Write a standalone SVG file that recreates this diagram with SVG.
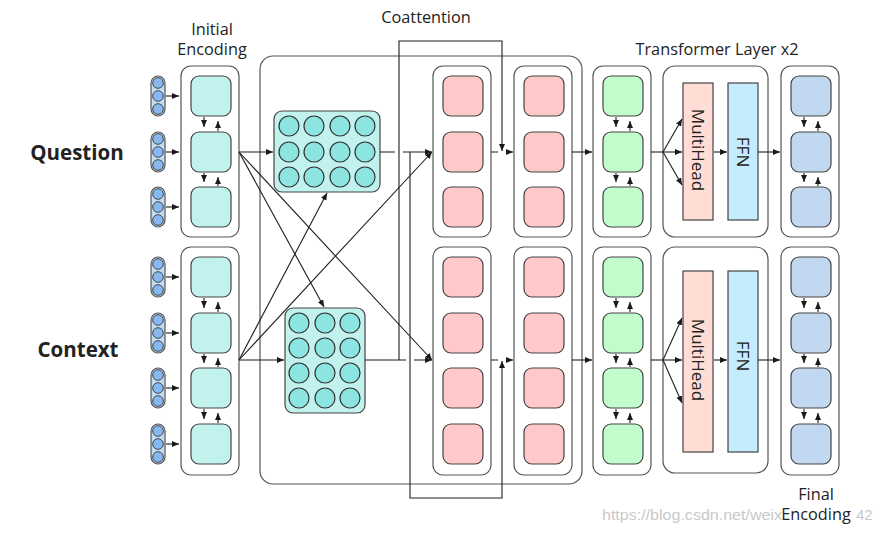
<svg xmlns="http://www.w3.org/2000/svg" width="882" height="533" viewBox="0 0 882 533">
<defs>
<marker id="ah" markerUnits="userSpaceOnUse" markerWidth="7" markerHeight="6" refX="7" refY="3" orient="auto"><path d="M0,0 L7,3 L0,6 z" fill="#1a1a1a"/></marker>
<style>
text{font-family:"Open Sans","DejaVu Sans",sans-serif;fill:#222}
.lbl{font-size:16.3px}
.rot{font-size:17px}
.big{font-size:20.5px;font-weight:bold}
.wm{font-family:"Liberation Sans",Arial,sans-serif;font-size:15px;fill:#c9c9c9}
.box{fill:#fff;stroke:#555;stroke-width:1.2}
.cyan{fill:#c2f2ee;stroke:#444;stroke-width:1.2}
.dot{fill:#8ce5e0;stroke:#333;stroke-width:1.2}
.pink{fill:#ffc9c9;stroke:#444;stroke-width:1.2}
.green{fill:#c2fccd;stroke:#444;stroke-width:1.2}
.blue{fill:#c2d8f1;stroke:#444;stroke-width:1.2}
.mh{fill:#ffddd5;stroke:#444;stroke-width:1.2}
.ffn{fill:#c4ecfc;stroke:#444;stroke-width:1.2}
.pill{fill:#c4dcf4;stroke:#555;stroke-width:1.2}
.tok{fill:#86b9f0;stroke:#444;stroke-width:1}
.ln{fill:none;stroke:#1e1e1e;stroke-width:1.1}
.arr{fill:none;stroke:#1e1e1e;stroke-width:1.1;marker-end:url(#ah)}
</style>
</defs>
<rect width="882" height="533" fill="#fff"/>

<!-- labels -->
<text class="big" x="77" y="160" text-anchor="middle">Question</text>
<text class="big" x="78" y="357" text-anchor="middle">Context</text>
<text class="lbl" x="212" y="35" text-anchor="middle">Initial</text>
<text class="lbl" x="212" y="55" text-anchor="middle">Encoding</text>
<text class="lbl" x="426" y="23" text-anchor="middle">Coattention</text>
<text class="lbl" x="717" y="55" text-anchor="middle">Transformer Layer x2</text>
<text class="wm" x="602" y="520" textLength="180" lengthAdjust="spacingAndGlyphs">https://blog.csdn.net/weix</text>
<text class="wm" x="856" y="520">42</text>
<text class="lbl" x="816" y="500" text-anchor="middle">Final</text>
<text class="lbl" x="816" y="520" text-anchor="middle">Encoding</text>

<!-- coattention outer box -->
<rect id="coattention-box" x="260" y="56" width="322" height="428" rx="13" fill="none" stroke="#555" stroke-width="1.2"/>

<!-- question tokens -->
<g id="q-tokens">
<g><rect class="pill" x="151" y="76" width="14" height="40" rx="7"/><circle class="tok" cx="158" cy="83" r="5.3"/><circle class="tok" cx="158" cy="96" r="5.3"/><circle class="tok" cx="158" cy="109" r="5.3"/></g>
<g><rect class="pill" x="151" y="132" width="14" height="40" rx="7"/><circle class="tok" cx="158" cy="139" r="5.3"/><circle class="tok" cx="158" cy="152" r="5.3"/><circle class="tok" cx="158" cy="165" r="5.3"/></g>
<g><rect class="pill" x="151" y="187" width="14" height="40" rx="7"/><circle class="tok" cx="158" cy="194" r="5.3"/><circle class="tok" cx="158" cy="207" r="5.3"/><circle class="tok" cx="158" cy="220" r="5.3"/></g>
</g>
<g id="c-tokens">
<g><rect class="pill" x="151" y="257" width="14" height="40" rx="7"/><circle class="tok" cx="158" cy="264" r="5.3"/><circle class="tok" cx="158" cy="277" r="5.3"/><circle class="tok" cx="158" cy="290" r="5.3"/></g>
<g><rect class="pill" x="151" y="313" width="14" height="40" rx="7"/><circle class="tok" cx="158" cy="320" r="5.3"/><circle class="tok" cx="158" cy="333" r="5.3"/><circle class="tok" cx="158" cy="346" r="5.3"/></g>
<g><rect class="pill" x="151" y="368" width="14" height="40" rx="7"/><circle class="tok" cx="158" cy="375" r="5.3"/><circle class="tok" cx="158" cy="388" r="5.3"/><circle class="tok" cx="158" cy="401" r="5.3"/></g>
<g><rect class="pill" x="151" y="424" width="14" height="40" rx="7"/><circle class="tok" cx="158" cy="431" r="5.3"/><circle class="tok" cx="158" cy="444" r="5.3"/><circle class="tok" cx="158" cy="457" r="5.3"/></g>
</g>

<!-- initial encoding -->
<g id="q-enc">
<rect class="box" x="181" y="66" width="58" height="171" rx="10"/>
<rect class="cyan" x="191" y="76" width="40" height="40" rx="8"/>
<rect class="cyan" x="191" y="132" width="40" height="40" rx="8"/>
<rect class="cyan" x="191" y="187" width="40" height="40" rx="8"/>
</g>
<g id="c-enc">
<rect class="box" x="181" y="247" width="58" height="228" rx="10"/>
<rect class="cyan" x="191" y="257" width="40" height="40" rx="8"/>
<rect class="cyan" x="191" y="313" width="40" height="40" rx="8"/>
<rect class="cyan" x="191" y="368" width="40" height="40" rx="8"/>
<rect class="cyan" x="191" y="424" width="40" height="40" rx="8"/>
</g>

<!-- matrices -->
<g id="q-matrix">
<rect class="cyan" x="274" y="111" width="106" height="81" rx="8"/>
<g class="dot">
<circle cx="289" cy="126" r="10"/><circle cx="314" cy="126" r="10"/><circle cx="340" cy="126" r="10"/><circle cx="365" cy="126" r="10"/>
<circle cx="289" cy="152" r="10"/><circle cx="314" cy="152" r="10"/><circle cx="340" cy="152" r="10"/><circle cx="365" cy="152" r="10"/>
<circle cx="289" cy="177" r="10"/><circle cx="314" cy="177" r="10"/><circle cx="340" cy="177" r="10"/><circle cx="365" cy="177" r="10"/>
</g>
</g>
<g id="c-matrix">
<rect class="cyan" x="285" y="308" width="80" height="105" rx="8"/>
<g class="dot">
<circle cx="299" cy="323" r="10"/><circle cx="325" cy="323" r="10"/><circle cx="350" cy="323" r="10"/>
<circle cx="299" cy="348" r="10"/><circle cx="325" cy="348" r="10"/><circle cx="350" cy="348" r="10"/>
<circle cx="299" cy="373" r="10"/><circle cx="325" cy="373" r="10"/><circle cx="350" cy="373" r="10"/>
<circle cx="299" cy="398" r="10"/><circle cx="325" cy="398" r="10"/><circle cx="350" cy="398" r="10"/>
</g>
</g>

<!-- coattention columns -->
<g id="q-coatt1">
<rect class="box" x="433" y="66" width="58" height="171" rx="10"/>
<rect class="pink" x="443" y="76" width="40" height="40" rx="8"/>
<rect class="pink" x="443" y="132" width="40" height="40" rx="8"/>
<rect class="pink" x="443" y="187" width="40" height="40" rx="8"/>
</g>
<g id="q-coatt2">
<rect class="box" x="514" y="66" width="58" height="171" rx="10"/>
<rect class="pink" x="524" y="76" width="40" height="40" rx="8"/>
<rect class="pink" x="524" y="132" width="40" height="40" rx="8"/>
<rect class="pink" x="524" y="187" width="40" height="40" rx="8"/>
</g>
<g id="c-coatt1">
<rect class="box" x="433" y="247" width="58" height="228" rx="10"/>
<rect class="pink" x="443" y="257" width="40" height="40" rx="8"/>
<rect class="pink" x="443" y="313" width="40" height="40" rx="8"/>
<rect class="pink" x="443" y="368" width="40" height="40" rx="8"/>
<rect class="pink" x="443" y="424" width="40" height="40" rx="8"/>
</g>
<g id="c-coatt2">
<rect class="box" x="514" y="247" width="58" height="228" rx="10"/>
<rect class="pink" x="524" y="257" width="40" height="40" rx="8"/>
<rect class="pink" x="524" y="313" width="40" height="40" rx="8"/>
<rect class="pink" x="524" y="368" width="40" height="40" rx="8"/>
<rect class="pink" x="524" y="424" width="40" height="40" rx="8"/>
</g>

<!-- transformer -->
<g id="q-green">
<rect class="box" x="593" y="66" width="58" height="171" rx="10"/>
<rect class="green" x="603" y="76" width="40" height="40" rx="8"/>
<rect class="green" x="603" y="132" width="40" height="40" rx="8"/>
<rect class="green" x="603" y="187" width="40" height="40" rx="8"/>
</g>
<g id="c-green">
<rect class="box" x="593" y="247" width="58" height="228" rx="10"/>
<rect class="green" x="603" y="257" width="40" height="40" rx="8"/>
<rect class="green" x="603" y="313" width="40" height="40" rx="8"/>
<rect class="green" x="603" y="368" width="40" height="40" rx="8"/>
<rect class="green" x="603" y="424" width="40" height="40" rx="8"/>
</g>
<g id="q-transformer">
<rect class="box" x="663" y="66" width="105" height="171" rx="12"/>
<rect class="mh" x="683" y="83" width="30" height="137"/>
<rect class="ffn" x="728" y="83" width="30" height="137"/>
<text class="rot" transform="translate(698,150) rotate(90)" text-anchor="middle" dy="6">MultiHead</text>
<text class="rot" transform="translate(743,152) rotate(90)" text-anchor="middle" dy="6">FFN</text>
</g>
<g id="c-transformer">
<rect class="box" x="663" y="247" width="105" height="226" rx="12"/>
<rect class="mh" x="683" y="271" width="30" height="181"/>
<rect class="ffn" x="728" y="271" width="30" height="181"/>
<text class="rot" transform="translate(698,360) rotate(90)" text-anchor="middle" dy="6">MultiHead</text>
<text class="rot" transform="translate(743,356) rotate(90)" text-anchor="middle" dy="6">FFN</text>
</g>
<g id="q-final">
<rect class="box" x="781" y="66" width="58" height="171" rx="10"/>
<rect class="blue" x="791" y="76" width="40" height="40" rx="8"/>
<rect class="blue" x="791" y="132" width="40" height="40" rx="8"/>
<rect class="blue" x="791" y="187" width="40" height="40" rx="8"/>
</g>
<g id="c-final">
<rect class="box" x="781" y="247" width="58" height="228" rx="10"/>
<rect class="blue" x="791" y="257" width="40" height="40" rx="8"/>
<rect class="blue" x="791" y="313" width="40" height="40" rx="8"/>
<rect class="blue" x="791" y="368" width="40" height="40" rx="8"/>
<rect class="blue" x="791" y="424" width="40" height="40" rx="8"/>
</g>

<!-- connectors -->
<g id="connectors">
<path class="arr" d="M166,96 H179"/><path class="arr" d="M166,152 H179"/><path class="arr" d="M166,207 H179"/>
<path class="arr" d="M166,277 H179"/><path class="arr" d="M166,333 H179"/><path class="arr" d="M166,388 H179"/><path class="arr" d="M166,444 H179"/>
<g id="col-arrows">
<path class="arr" d="M204,117 V127"/><path class="arr" d="M218,131 V121"/>
<path class="arr" d="M204,173 V182"/><path class="arr" d="M218,186 V177"/>
<path class="arr" d="M204,298 V308"/><path class="arr" d="M218,312 V302"/>
<path class="arr" d="M204,354 V363"/><path class="arr" d="M218,367 V358"/>
<path class="arr" d="M204,409 V419"/><path class="arr" d="M218,423 V413"/>
<path class="arr" d="M616,117 V127"/><path class="arr" d="M630,131 V121"/>
<path class="arr" d="M616,173 V182"/><path class="arr" d="M630,186 V177"/>
<path class="arr" d="M616,298 V308"/><path class="arr" d="M630,312 V302"/>
<path class="arr" d="M616,354 V363"/><path class="arr" d="M630,367 V358"/>
<path class="arr" d="M616,409 V419"/><path class="arr" d="M630,423 V413"/>
<path class="arr" d="M804,117 V127"/><path class="arr" d="M818,131 V121"/>
<path class="arr" d="M804,173 V182"/><path class="arr" d="M818,186 V177"/>
<path class="arr" d="M804,298 V308"/><path class="arr" d="M818,312 V302"/>
<path class="arr" d="M804,354 V363"/><path class="arr" d="M818,367 V358"/>
<path class="arr" d="M804,409 V419"/><path class="arr" d="M818,423 V413"/>
</g>
<path class="arr" d="M239,152 H273"/>
<path class="arr" d="M239,152 L324,307"/>
<path class="arr" d="M239,152 L432,360"/>
<path class="arr" d="M239,360 H284"/>
<path class="arr" d="M239,360 L327,193"/>
<path class="arr" d="M239,360 L432,152"/>
<path class="arr" d="M380,152 H395 M403,152 H432"/>
<path class="arr" d="M365,360 H406 M414,360 H432"/>
<path class="arr" d="M399,360 V41 H502 V151"/>
<path class="arr" d="M410,152 V498 H502 V361"/>
<path class="arr" d="M491,152 H498 M506,152 H513"/>
<path class="arr" d="M491,360 H498 M506,360 H513"/>
<path class="arr" d="M572,152 H592"/>
<path class="arr" d="M572,360 H592"/>
<path class="ln" d="M651,152 H663"/>
<path class="arr" d="M663,152 L682,119"/><path class="arr" d="M663,152 H682"/><path class="arr" d="M663,152 L682,185"/>
<path class="ln" d="M651,360 H663"/>
<path class="arr" d="M663,360 L682,318"/><path class="arr" d="M663,360 H682"/><path class="arr" d="M663,360 L682,403"/>
<path class="arr" d="M714,152 H727"/>
<path class="arr" d="M714,360 H727"/>
<path class="arr" d="M758,152 H780"/>
<path class="arr" d="M758,360 H780"/>
</g>
</svg>
